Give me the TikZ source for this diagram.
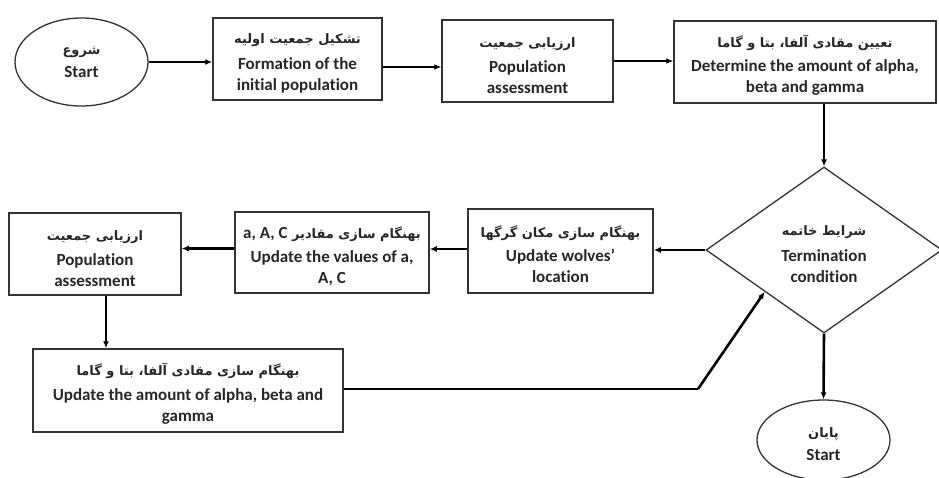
\documentclass[tikz,border=0pt]{standalone}
\usepackage{fontspec}
\setmainfont[Ligatures=NoCommon]{Carlito}
\newfontfamily\fa[Script=Arabic]{DejaVu Sans}
\TeXXeTstate=1
\usetikzlibrary{shapes.geometric,arrows.meta}
\begin{document}
\begin{tikzpicture}[x=1pt,y=-1pt,
  every node/.style={font=\fontsize{17}{21}\selectfont\bfseries, text=black!85, align=center, inner sep=0pt},
  boxst/.style={draw=black!80, line width=1.5pt, rectangle},
  ellst/.style={draw=black!80, line width=1.3pt, ellipse},
  diast/.style={draw=black!80, line width=1.3pt, diamond, aspect=1.4},
  conn/.style={line width=2.6pt, -{Latex[length=7pt,width=6pt]}},
  plain/.style={line width=2.6pt}]
\useasboundingbox (0,0) rectangle (939,477);
\newcommand{\fat}[1]{{\fa\fontsize{13}{21}\selectfont\beginR #1\endR}}
\newcommand{\fatb}[1]{\rule{0pt}{19pt}\fat{#1}}
\node[ellst, minimum width=133pt, minimum height=88pt] (start) at (81.5,62) {\fat{شروع}\\[2pt]Start};
\node[boxst, minimum width=169pt, minimum height=82pt] (b1) at (297.5,59) {\fatb{تشکیل جمعیت اولیه}\\[5pt]Formation of the\\initial population};
\node[boxst, minimum width=171pt, minimum height=82pt] (b2) at (527.5,61) {\fatb{ارزیابی جمعیت}\\[4pt]Population\\assessment};
\node[boxst, minimum width=262pt, minimum height=82pt] (b3) at (805,62) {\fatb{تعیین مقادی آلفا، بتا و گاما}\\[3pt]Determine the amount of alpha,\\beta and gamma};
\node[diast, minimum width=236pt, minimum height=166pt] (dia) at (824,250) {\fatb{شرایط خاتمه}\\[5pt]Termination\\condition};
\node[boxst, minimum width=185pt, minimum height=84pt] (w) at (560.5,251) {\fatb{بهنگام سازی مکان گرگها}\\[3pt]Update wolves’\\location};
\node[boxst, minimum width=194pt, minimum height=81pt] (v) at (332,252.5) {\rule{0pt}{19pt}{\fa\fontsize{13}{21}\selectfont\beginR بهنگام سازی مقادیر {\normalfont\fontsize{17}{21}\selectfont\bfseries\beginL a, A, C\endL}\endR}\\[3pt]Update the values of a,\\A, C};
\node[boxst, minimum width=172pt, minimum height=82pt] (p2) at (95,254) {\fatb{ارزیابی جمعیت}\\[4pt]Population\\assessment};
\node[boxst, minimum width=310pt, minimum height=83pt] (u) at (188,390.5) {\fatb{بهنگام سازی مقادی آلفا، بتا و گاما}\\[4pt]Update the amount of alpha, beta and\\gamma};
\node[ellst, minimum width=133pt, minimum height=80pt] (end) at (823.5,440) {\rule{0pt}{19pt}\fat{پایان}\\[2pt]Start};
\coordinate (bend) at (698,389);
\draw[conn] (start.east) -- (start.east -| b1.west);
\draw[conn] ([yshift=-8pt]b1.east) -- ([yshift=-8pt]b1.east -| b2.west);
\draw[conn] (b2.east) -- (b2.east -| b3.west);
\draw[conn] (dia.north |- b3.south) -- (dia.north);
\draw[conn] (dia.west) -- (dia.west -| w.east);
\draw[conn] ([yshift=2pt]w.west) -- ([yshift=2pt]w.west -| v.east);
\draw[conn] ([yshift=4pt]v.west) -- ([yshift=4pt]v.west -| p2.east);
\draw[conn] ([xshift=11pt]p2.south) -- ([xshift=11pt]p2.south |- u.north);
\draw[plain] (u.east |- bend) -- (bend);
\draw[conn] (bend) -- (dia.south west);
\draw[conn] (dia.south) -- (end.north);
\end{tikzpicture}
\end{document}
